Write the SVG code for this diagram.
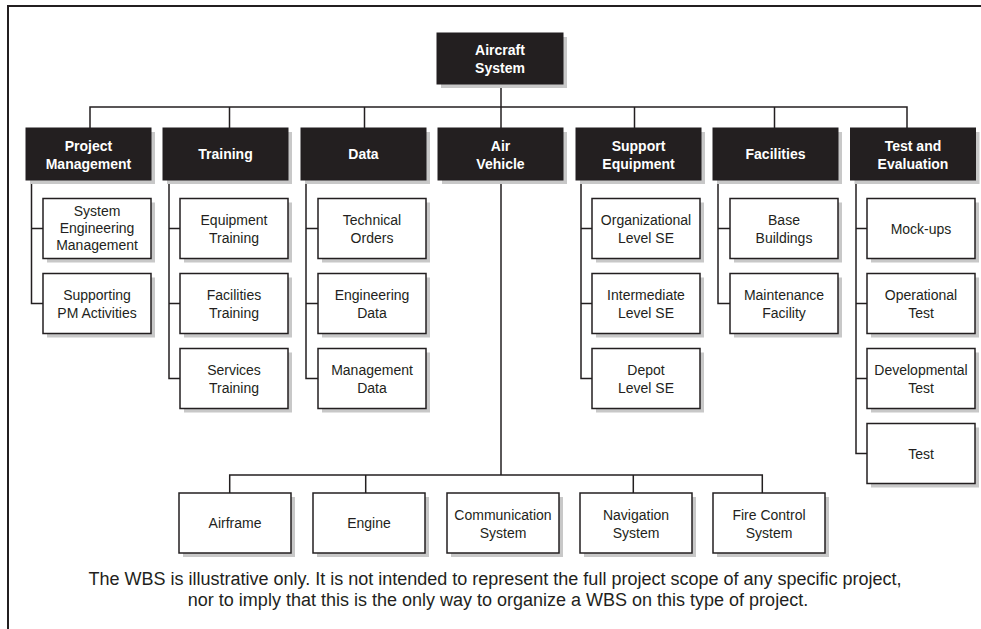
<svg xmlns="http://www.w3.org/2000/svg" width="981" height="629" viewBox="0 0 981 629">
<style>
.bg{fill:#ffffff}
.frame{fill:none;stroke:#231f20;stroke-width:2}
.sh{fill:#c8c8c8}
.dk{fill:#231f20;stroke:#231f20;stroke-width:1}
.bx{fill:#ffffff;stroke:#231f20;stroke-width:1.5}
.hd{font-family:"Liberation Sans",Arial,sans-serif;font-weight:bold;font-size:14px;fill:#ffffff;text-anchor:middle}
.lb{font-family:"Liberation Sans",Arial,sans-serif;font-size:14px;fill:#231f20;text-anchor:middle}
.fn{font-family:"Liberation Sans",Arial,sans-serif;font-size:18px;fill:#231f20;text-anchor:middle}
.cn{fill:none;stroke:#231f20;stroke-width:1.5}
</style>
<rect class="bg" x="0" y="0" width="981" height="629"/>
<path class="frame" d="M8,629 V6 H981"/>

<g id="connectors">
<path class="cn" d="M501,84 V475"/>
<path class="cn" d="M90,128 V107 H907 V128"/>
<path class="cn" d="M229.5,107 V128 M364.5,107 V128 M634.5,107 V128 M774.5,107 V128"/>
<path class="cn" d="M31.5,180 V303.5 H43 M31.5,228.5 H43"/>
<path class="cn" d="M169,180 V378.5 H180 M169,228.5 H180 M169,303.5 H180"/>
<path class="cn" d="M306,180 V378.5 H318 M306,228.5 H318 M306,303.5 H318"/>
<path class="cn" d="M581,180 V378.5 H592 M581,228.5 H592 M581,303.5 H592"/>
<path class="cn" d="M718,180 V303.5 H730 M718,228.5 H730"/>
<path class="cn" d="M856,180 V453.5 H867 M856,228.5 H867 M856,303.5 H867 M856,378.5 H867"/>
<path class="cn" d="M229.7,493 V475 H762.3 V493 M365.7,475 V493 M633.3,475 V493"/>
</g>

<g id="aircraft-system">
<rect class="sh" x="441" y="37" width="126" height="51"/>
<rect class="dk" x="437" y="33" width="126" height="51"/>
<text class="hd" x="500" y="55">Aircraft</text>
<text class="hd" x="500" y="73">System</text>
</g>

<g id="project-management">
<rect class="sh" x="30" y="132" width="125" height="52"/>
<rect class="dk" x="26" y="128" width="125" height="52"/>
<text class="hd" x="88.5" y="151">Project</text>
<text class="hd" x="88.5" y="169">Management</text>
</g>
<g id="training">
<rect class="sh" x="167" y="132" width="125" height="52"/>
<rect class="dk" x="163" y="128" width="125" height="52"/>
<text class="hd" x="225.5" y="159">Training</text>
</g>
<g id="data">
<rect class="sh" x="305" y="132" width="125" height="52"/>
<rect class="dk" x="301" y="128" width="125" height="52"/>
<text class="hd" x="363.5" y="159">Data</text>
</g>
<g id="air-vehicle">
<rect class="sh" x="442" y="132" width="125" height="52"/>
<rect class="dk" x="438" y="128" width="125" height="52"/>
<text class="hd" x="500.5" y="151">Air</text>
<text class="hd" x="500.5" y="169">Vehicle</text>
</g>
<g id="support-equipment">
<rect class="sh" x="580" y="132" width="125" height="52"/>
<rect class="dk" x="576" y="128" width="125" height="52"/>
<text class="hd" x="638.5" y="151">Support</text>
<text class="hd" x="638.5" y="169">Equipment</text>
</g>
<g id="facilities">
<rect class="sh" x="717" y="132" width="125" height="52"/>
<rect class="dk" x="713" y="128" width="125" height="52"/>
<text class="hd" x="775.5" y="159">Facilities</text>
</g>
<g id="test-and-evaluation">
<rect class="sh" x="854.5" y="132" width="125" height="52"/>
<rect class="dk" x="850.5" y="128" width="125" height="52"/>
<text class="hd" x="913" y="151">Test and</text>
<text class="hd" x="913" y="169">Evaluation</text>
</g>

<!-- Project Management children -->
<g id="system-engineering-management">
<rect class="sh" x="47" y="202.5" width="108" height="60"/>
<rect class="bx" x="43" y="198.5" width="108" height="60"/>
<text class="lb" x="97" y="216">System</text>
<text class="lb" x="97" y="233">Engineering</text>
<text class="lb" x="97" y="249.5">Management</text>
</g>
<g id="supporting-pm-activities">
<rect class="sh" x="47" y="277.5" width="108" height="60"/>
<rect class="bx" x="43" y="273.5" width="108" height="60"/>
<text class="lb" x="97" y="300">Supporting</text>
<text class="lb" x="97" y="317.5">PM Activities</text>
</g>

<!-- Training children -->
<g id="equipment-training">
<rect class="sh" x="184" y="202.5" width="108" height="60"/>
<rect class="bx" x="180" y="198.5" width="108" height="60"/>
<text class="lb" x="234" y="225">Equipment</text>
<text class="lb" x="234" y="242.5">Training</text>
</g>
<g id="facilities-training">
<rect class="sh" x="184" y="277.5" width="108" height="60"/>
<rect class="bx" x="180" y="273.5" width="108" height="60"/>
<text class="lb" x="234" y="300">Facilities</text>
<text class="lb" x="234" y="317.5">Training</text>
</g>
<g id="services-training">
<rect class="sh" x="184" y="352.5" width="108" height="60"/>
<rect class="bx" x="180" y="348.5" width="108" height="60"/>
<text class="lb" x="234" y="375">Services</text>
<text class="lb" x="234" y="392.5">Training</text>
</g>

<!-- Data children -->
<g id="technical-orders">
<rect class="sh" x="322" y="202.5" width="108" height="60"/>
<rect class="bx" x="318" y="198.5" width="108" height="60"/>
<text class="lb" x="372" y="225">Technical</text>
<text class="lb" x="372" y="242.5">Orders</text>
</g>
<g id="engineering-data">
<rect class="sh" x="322" y="277.5" width="108" height="60"/>
<rect class="bx" x="318" y="273.5" width="108" height="60"/>
<text class="lb" x="372" y="300">Engineering</text>
<text class="lb" x="372" y="317.5">Data</text>
</g>
<g id="management-data">
<rect class="sh" x="322" y="352.5" width="108" height="60"/>
<rect class="bx" x="318" y="348.5" width="108" height="60"/>
<text class="lb" x="372" y="375">Management</text>
<text class="lb" x="372" y="392.5">Data</text>
</g>

<!-- Support Equipment children -->
<g id="organizational-level-se">
<rect class="sh" x="596" y="202.5" width="108" height="60"/>
<rect class="bx" x="592" y="198.5" width="108" height="60"/>
<text class="lb" x="646" y="225">Organizational</text>
<text class="lb" x="646" y="242.5">Level SE</text>
</g>
<g id="intermediate-level-se">
<rect class="sh" x="596" y="277.5" width="108" height="60"/>
<rect class="bx" x="592" y="273.5" width="108" height="60"/>
<text class="lb" x="646" y="300">Intermediate</text>
<text class="lb" x="646" y="317.5">Level SE</text>
</g>
<g id="depot-level-se">
<rect class="sh" x="596" y="352.5" width="108" height="60"/>
<rect class="bx" x="592" y="348.5" width="108" height="60"/>
<text class="lb" x="646" y="375">Depot</text>
<text class="lb" x="646" y="392.5">Level SE</text>
</g>

<!-- Facilities children -->
<g id="base-buildings">
<rect class="sh" x="734" y="202.5" width="108" height="60"/>
<rect class="bx" x="730" y="198.5" width="108" height="60"/>
<text class="lb" x="784" y="225">Base</text>
<text class="lb" x="784" y="242.5">Buildings</text>
</g>
<g id="maintenance-facility">
<rect class="sh" x="734" y="277.5" width="108" height="60"/>
<rect class="bx" x="730" y="273.5" width="108" height="60"/>
<text class="lb" x="784" y="300">Maintenance</text>
<text class="lb" x="784" y="317.5">Facility</text>
</g>

<!-- Test and Evaluation children -->
<g id="mock-ups">
<rect class="sh" x="871" y="202.5" width="108" height="60"/>
<rect class="bx" x="867" y="198.5" width="108" height="60"/>
<text class="lb" x="921" y="234">Mock-ups</text>
</g>
<g id="operational-test">
<rect class="sh" x="871" y="277.5" width="108" height="60"/>
<rect class="bx" x="867" y="273.5" width="108" height="60"/>
<text class="lb" x="921" y="300">Operational</text>
<text class="lb" x="921" y="317.5">Test</text>
</g>
<g id="developmental-test">
<rect class="sh" x="871" y="352.5" width="108" height="60"/>
<rect class="bx" x="867" y="348.5" width="108" height="60"/>
<text class="lb" x="921" y="375">Developmental</text>
<text class="lb" x="921" y="392.5">Test</text>
</g>
<g id="test">
<rect class="sh" x="871" y="427.5" width="108" height="60"/>
<rect class="bx" x="867" y="423.5" width="108" height="60"/>
<text class="lb" x="921" y="459">Test</text>
</g>

<!-- Air Vehicle children -->
<g id="airframe">
<rect class="sh" x="183" y="497" width="112" height="60"/>
<rect class="bx" x="179" y="493" width="112" height="60"/>
<text class="lb" x="235" y="528">Airframe</text>
</g>
<g id="engine">
<rect class="sh" x="317" y="497" width="112" height="60"/>
<rect class="bx" x="313" y="493" width="112" height="60"/>
<text class="lb" x="369" y="528">Engine</text>
</g>
<g id="communication-system">
<rect class="sh" x="451" y="497" width="112" height="60"/>
<rect class="bx" x="447" y="493" width="112" height="60"/>
<text class="lb" x="503" y="520">Communication</text>
<text class="lb" x="503" y="538">System</text>
</g>
<g id="navigation-system">
<rect class="sh" x="584" y="497" width="112" height="60"/>
<rect class="bx" x="580" y="493" width="112" height="60"/>
<text class="lb" x="636" y="520">Navigation</text>
<text class="lb" x="636" y="538">System</text>
</g>
<g id="fire-control-system">
<rect class="sh" x="717" y="497" width="112" height="60"/>
<rect class="bx" x="713" y="493" width="112" height="60"/>
<text class="lb" x="769" y="520">Fire Control</text>
<text class="lb" x="769" y="538">System</text>
</g>

<text class="fn" x="495" y="585">The WBS is illustrative only. It is not intended to represent the full project scope of any specific project,</text>
<text class="fn" x="498" y="606">nor to imply that this is the only way to organize a WBS on this type of project.</text>
</svg>
